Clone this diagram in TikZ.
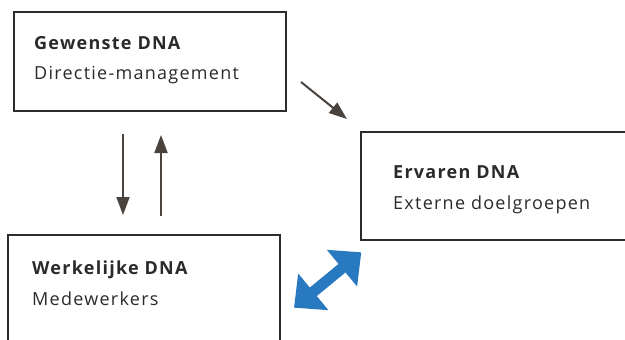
\documentclass[tikz,border=0pt]{standalone}
\usepackage{fontspec}
\setmainfont{Open Sans}[Ligatures=NoCommon, LetterSpace=7]
\usetikzlibrary{arrows.meta}
\definecolor{boxline}{HTML}{2E2B2A}
\definecolor{arrowc}{HTML}{4A423D}
\definecolor{bluec}{HTML}{2879C0}
\definecolor{textc}{HTML}{2A2A2A}
\tikzset{
  dnabox/.style={draw=boxline, line width=1.8pt, fill=none, rectangle, inner sep=0pt, anchor=north west},
  ttl/.style={anchor=base west, inner sep=0pt, font=\fontsize{18}{20}\selectfont\bfseries, text=textc},
  sub/.style={anchor=base west, inner sep=0pt, font=\fontsize{18}{20}\selectfont, text=textc},
  darrow/.style={draw=arrowc, line width=2pt, -{Triangle[length=18pt,width=13pt]}},
  barrow/.style={draw=bluec, line width=11pt, {Triangle[length=25pt,width=46pt]}-{Triangle[length=25pt,width=46pt]}}
}
\begin{document}
\begin{tikzpicture}[x=1pt,y=-1pt]
\useasboundingbox (0,0) rectangle (625,340);
\clip (0,0) rectangle (625,340);
% boxes
\node[dnabox, minimum width=272pt, minimum height=99pt] (gew) at (13,11) {};
\node[dnabox, minimum width=270pt, minimum height=108pt] (erv) at (360,131) {};
\node[dnabox, minimum width=272pt, minimum height=115pt] (wer) at (7,234) {};
% texts
\node[ttl] (gewt) at (34,49) {Gewenste DNA};
\node[sub] (gews) at (34,79.5) {Directie-management};
\node[ttl] (ervt) at (393,178.3) {Ervaren DNA};
\node[sub] (ervs) at (393,209.3) {Externe doelgroepen};
\node[ttl] (wert) at (32,274.3) {Werkelijke DNA};
\node[sub] (wers) at (32,305) {Medewerkers};
% arrow end points
\coordinate (d1) at (123,134);
\coordinate (d2) at (123,215);
\coordinate (u1) at (161,216);
\coordinate (u2) at (161,135);
\coordinate (g1) at (301,82);
\coordinate (g2) at (347,119);
\coordinate (b1) at (294,307.7);
\coordinate (b2) at (361.3,252.3);
\draw[darrow] (d1) -- (d2);
\draw[darrow] (u1) -- (u2);
\draw[darrow] (g1) -- (g2);
\draw[barrow] (b1) -- (b2);
\end{tikzpicture}
\end{document}
